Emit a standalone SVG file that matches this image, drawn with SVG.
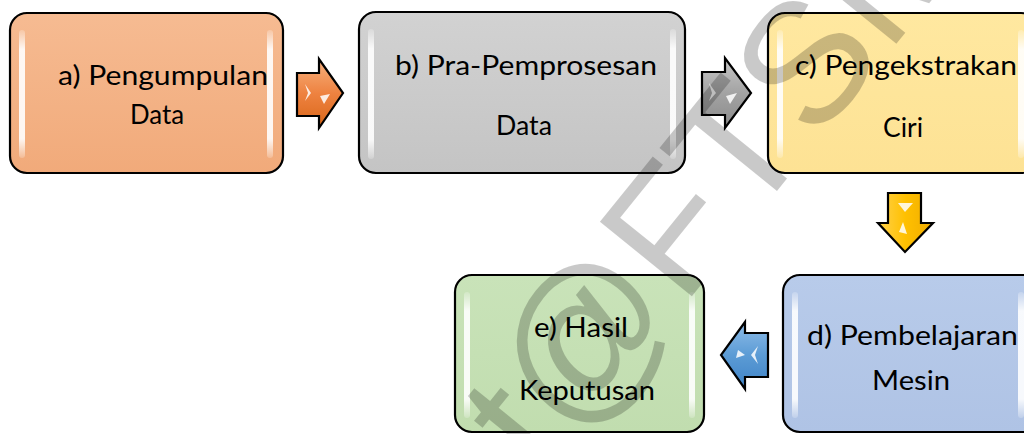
<svg xmlns="http://www.w3.org/2000/svg" width="1024" height="434" viewBox="0 0 1024 434">
<defs>
<style>
.box{stroke:#000;stroke-width:2.2}
.lbl{font-family:Lato,"Open Sans","Liberation Sans",sans-serif;font-size:26px;fill:#000}
.arr{stroke:#000;stroke-width:2.2;stroke-linejoin:miter}
.wm{font-family:"Liberation Sans",Arial,sans-serif;font-size:172px;fill:#000;fill-opacity:0.21}
.hl{fill:#fff;opacity:0.85}
</style>
<linearGradient id="gA" x1="0" y1="0" x2="0" y2="1"><stop offset="0" stop-color="#f6bb92"/><stop offset="1" stop-color="#f1aa7a"/></linearGradient>
<linearGradient id="gB" x1="0" y1="0" x2="0" y2="1"><stop offset="0" stop-color="#d2d2d2"/><stop offset="1" stop-color="#c4c4c4"/></linearGradient>
<linearGradient id="gC" x1="0" y1="0" x2="0" y2="1"><stop offset="0" stop-color="#ffe8a0"/><stop offset="1" stop-color="#fde294"/></linearGradient>
<linearGradient id="gD" x1="0" y1="0" x2="0" y2="1"><stop offset="0" stop-color="#b8cbea"/><stop offset="1" stop-color="#afc3e5"/></linearGradient>
<linearGradient id="gE" x1="0" y1="0" x2="0" y2="1"><stop offset="0" stop-color="#c9e3b9"/><stop offset="1" stop-color="#c1ddaf"/></linearGradient>
<linearGradient id="strip" x1="0" y1="0" x2="0" y2="1"><stop offset="0" stop-color="#fff" stop-opacity="0.2"/><stop offset="0.15" stop-color="#fff" stop-opacity="0.9"/><stop offset="0.85" stop-color="#fff" stop-opacity="0.9"/><stop offset="1" stop-color="#fff" stop-opacity="0.2"/></linearGradient>
<linearGradient id="aO" x1="0" y1="0" x2="0" y2="1"><stop offset="0" stop-color="#f7b27f"/><stop offset="0.5" stop-color="#ee8240"/><stop offset="1" stop-color="#d96618"/></linearGradient>
<linearGradient id="aG" x1="0" y1="0" x2="0" y2="1"><stop offset="0" stop-color="#c8c8c8"/><stop offset="0.5" stop-color="#a3a3a3"/><stop offset="1" stop-color="#8a8a8a"/></linearGradient>
<linearGradient id="aY" x1="0" y1="0" x2="1" y2="0"><stop offset="0" stop-color="#ffd24d"/><stop offset="0.5" stop-color="#ffc000"/><stop offset="1" stop-color="#f0ac00"/></linearGradient>
<linearGradient id="aBl" x1="0" y1="0" x2="0" y2="1"><stop offset="0" stop-color="#8fbde8"/><stop offset="0.5" stop-color="#5b9bd5"/><stop offset="1" stop-color="#3f83c6"/></linearGradient>
</defs>
<rect width="1024" height="434" fill="#fff"/>

<g id="node-a">
<rect class="box" x="10" y="13" width="273" height="160" rx="17" fill="url(#gA)"/>
<rect x="19" y="30" width="6" height="128" rx="3" fill="url(#strip)"/>
<rect x="267" y="30" width="6" height="128" rx="3" fill="url(#strip)"/>
<text class="lbl" x="58" y="85" textLength="210" lengthAdjust="spacingAndGlyphs">a) Pengumpulan</text>
<text class="lbl" x="130" y="124" textLength="54" lengthAdjust="spacingAndGlyphs">Data</text>
</g>

<g id="node-b">
<rect class="box" x="359" y="12" width="326" height="161" rx="17" fill="url(#gB)"/>
<rect x="368" y="29" width="6" height="130" rx="3" fill="url(#strip)"/>
<rect x="670" y="29" width="6" height="130" rx="3" fill="url(#strip)"/>
<text class="lbl" x="395" y="75" textLength="262" lengthAdjust="spacingAndGlyphs">b) Pra-Pemprosesan</text>
<text class="lbl" x="496" y="135" textLength="56" lengthAdjust="spacingAndGlyphs">Data</text>
</g>

<g id="node-c">
<rect class="box" x="768" y="13" width="270" height="160" rx="17" fill="url(#gC)"/>
<rect x="777" y="30" width="6" height="128" rx="3" fill="url(#strip)"/>
<rect x="1018" y="30" width="6" height="128" rx="3" fill="url(#strip)"/>
<text class="lbl" x="795" y="75" textLength="222" lengthAdjust="spacingAndGlyphs">c) Pengekstrakan</text>
<text class="lbl" x="883" y="137" textLength="40" lengthAdjust="spacingAndGlyphs">Ciri</text>
</g>

<g id="node-d">
<rect class="box" x="783" y="275" width="260" height="157" rx="17" fill="url(#gD)"/>
<rect x="792" y="292" width="6" height="126" rx="3" fill="url(#strip)"/>
<rect x="1018" y="292" width="6" height="126" rx="3" fill="url(#strip)"/>
<text class="lbl" x="807" y="345" textLength="211" lengthAdjust="spacingAndGlyphs">d) Pembelajaran</text>
<text class="lbl" x="872" y="390" textLength="78" lengthAdjust="spacingAndGlyphs">Mesin</text>
</g>

<g id="node-e">
<rect class="box" x="455" y="275" width="249" height="157" rx="17" fill="url(#gE)"/>
<rect x="464" y="292" width="6" height="126" rx="3" fill="url(#strip)"/>
<rect x="689" y="292" width="6" height="126" rx="3" fill="url(#strip)"/>
<text class="lbl" x="534" y="337" textLength="94" lengthAdjust="spacingAndGlyphs">e) Hasil</text>
<text class="lbl" x="519" y="400" textLength="136" lengthAdjust="spacingAndGlyphs">Keputusan</text>
</g>

<g id="connectors">
<g id="arrow-a-b">
<polygon class="arr" points="297,73 319,73 319,59 343,93 319,128 319,116 297,116" fill="url(#aO)"/>
<polygon class="hl" points="305,84 311,93 305,101 308,93"/>
<polygon class="hl" points="320,96 330,94 324,104"/>
</g>
<g id="arrow-b-c">
<polygon class="arr" points="702,72 725,72 725,58 751,93 725,128 725,115 702,115" fill="url(#aG)"/>
<polygon class="hl" points="709,83 716,93 709,101 712,93"/>
<polygon class="hl" points="726,96 737,93 730,104" opacity="0.6"/>
</g>
<g id="arrow-c-d">
<polygon class="arr" points="888,193 921,193 921,223 933,223 905,252 878,223 888,223" fill="url(#aY)"/>
<polygon class="hl" points="898,203 913,203 905,212" opacity="0.6"/>
<polygon class="hl" points="903,222 907,234 899,232" opacity="0.75"/>
</g>
<g id="arrow-d-e">
<polygon class="arr" points="768,333 745,333 745,322 721,355 745,389 745,377 768,377" fill="url(#aBl)"/>
<polygon class="hl" points="738,350 745,355 736,358" opacity="0.75"/>
<polygon class="hl" points="758,346 751,355 758,364 755,355"/>
</g>
</g>

<text class="wm" transform="translate(543,480) rotate(-51)">t@FTSM</text>
</svg>
